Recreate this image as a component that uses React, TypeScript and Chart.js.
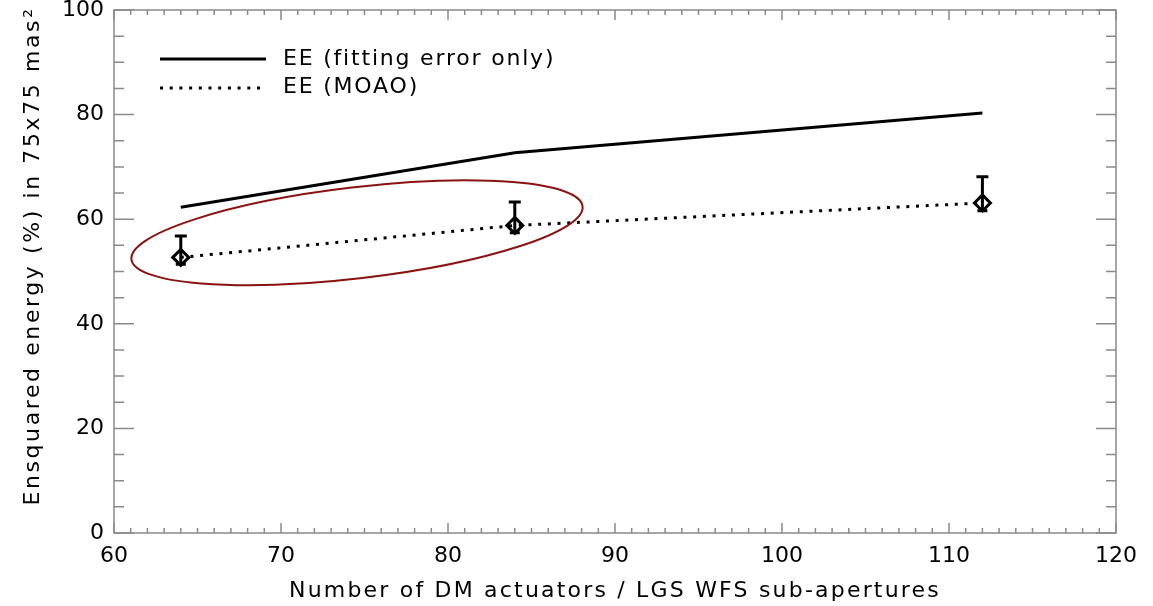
import React, { useEffect, useRef } from "react";
import { Chart, registerables } from "chart.js";

Chart.register(...registerables);

const xValues = [64, 84, 112];
const eeFitting = [62.3, 72.7, 80.3];
const eeMoao = [52.7, 58.8, 63.1];
const moaoUpper = [56.8, 63.3, 68.1];
const moaoLower = [51.4, 57.4, 61.6];
const legendLabels = ["EE (fitting error only)", "EE (MOAO)"];
const xTitle = "Number of DM actuators / LGS WFS sub-apertures";
const yTitle = "Ensquared energy (%) in 75x75 mas\u00B2";

const FONT = "'DejaVu Sans', sans-serif";
const AXIS_COLOR = "#8a8a8a";

const framePlugin = {
  id: "frame",
  afterDatasetsDraw(chart: any) {
    const { ctx, scales } = chart;
    const xs = scales.x;
    const ys = scales.y;
    ctx.save();
    ctx.strokeStyle = "#000";
    ctx.lineWidth = 3;
    ctx.lineCap = "butt";
    xValues.forEach((xv, i) => {
      const px = xs.getPixelForValue(xv);
      const top = ys.getPixelForValue(moaoUpper[i]);
      const bot = ys.getPixelForValue(moaoLower[i]);
      ctx.beginPath();
      ctx.moveTo(px, top);
      ctx.lineTo(px, bot);
      ctx.moveTo(px - 6, top);
      ctx.lineTo(px + 6, top);
      ctx.moveTo(px - 5, bot);
      ctx.lineTo(px + 5, bot);
      ctx.stroke();
    });
    ctx.restore();
  },
  afterDraw(chart: any) {
    const { ctx, chartArea: a, scales } = chart;
    const xs = scales.x;
    const ys = scales.y;
    ctx.save();
    // box + inward ticks
    ctx.strokeStyle = AXIS_COLOR;
    ctx.lineWidth = 1.5;
    ctx.strokeRect(a.left, a.top, a.right - a.left, a.bottom - a.top);
    ctx.beginPath();
    for (let v = 60; v <= 120; v += 1) {
      const px = xs.getPixelForValue(v);
      const len = v % 10 === 0 ? 10 : 5;
      ctx.moveTo(px, a.bottom);
      ctx.lineTo(px, a.bottom - len);
      ctx.moveTo(px, a.top);
      ctx.lineTo(px, a.top + len);
    }
    for (let v = 0; v <= 100; v += 5) {
      const py = ys.getPixelForValue(v);
      const len = v % 20 === 0 ? 20 : 10;
      ctx.moveTo(a.left, py);
      ctx.lineTo(a.left + len, py);
      ctx.moveTo(a.right, py);
      ctx.lineTo(a.right - len, py);
    }
    ctx.stroke();

    // ellipse annotation
    const cx = xs.getPixelForValue(74.55);
    const cy = ys.getPixelForValue(57.4);
    const rx = Math.abs(xs.getPixelForValue(60 + 13.6) - xs.getPixelForValue(60));
    const ry = Math.abs(ys.getPixelForValue(8.7) - ys.getPixelForValue(0));
    ctx.strokeStyle = "#8b1212";
    ctx.lineWidth = 2;
    ctx.beginPath();
    ctx.ellipse(cx, cy, rx, ry, (-6.7 * Math.PI) / 180, 0, Math.PI * 2);
    ctx.stroke();

    // legend
    ctx.strokeStyle = "#000";
    ctx.lineWidth = 3;
    ctx.beginPath();
    ctx.moveTo(160, 59);
    ctx.lineTo(266, 59);
    ctx.stroke();
    ctx.setLineDash([3, 6.7]);
    ctx.beginPath();
    ctx.moveTo(160, 88);
    ctx.lineTo(266, 88);
    ctx.stroke();
    ctx.setLineDash([]);
    ctx.fillStyle = "#000";
    ctx.font = `22px ${FONT}`;
    (ctx as any).letterSpacing = "1.8px";
    ctx.textBaseline = "middle";
    ctx.textAlign = "left";
    ctx.fillText(legendLabels[0], 283, 59);
    ctx.fillText(legendLabels[1], 283, 87);

    // axis titles
    (ctx as any).letterSpacing = "2.2px";
    ctx.textAlign = "center";
    ctx.fillText(xTitle, (a.left + a.right) / 2, 591);
    ctx.translate(33, 256);
    ctx.rotate(-Math.PI / 2);
    (ctx as any).letterSpacing = "2.6px";
    ctx.fillText(yTitle, 0, 0);
    ctx.restore();
  },
};

export default function App() {
  const ref = useRef<HTMLCanvasElement | null>(null);
  useEffect(() => {
    document.body.style.margin = "0";
    const canvas = ref.current;
    if (!canvas) return;
    const chart = new Chart(canvas, {
      type: "line",
      data: {
        datasets: [
          {
            label: legendLabels[0],
            data: xValues.map((x, i) => ({ x, y: eeFitting[i] })),
            borderColor: "#000",
            borderWidth: 3,
            pointRadius: 0,
            fill: false,
          },
          {
            label: legendLabels[1],
            data: xValues.map((x, i) => ({ x, y: eeMoao[i] })),
            borderColor: "#000",
            borderWidth: 3,
            borderDash: [3, 6.7],
            pointStyle: "rectRot",
            pointRadius: 8,
            pointBorderWidth: 3,
            pointBorderColor: "#000",
            pointBackgroundColor: "rgba(0,0,0,0)",
            fill: false,
          },
        ],
      },
      options: {
        animation: false,
        responsive: false,
        maintainAspectRatio: false,
        layout: { autoPadding: false, padding: { top: 0, right: 37, left: 0, bottom: 0 } },
        plugins: {
          legend: { display: false },
          tooltip: { enabled: false },
        },
        scales: {
          x: {
            type: "linear",
            min: 60,
            max: 120,
            grid: { display: false, drawTicks: false },
            border: { display: false },
            ticks: {
              stepSize: 10,
              padding: 12,
              color: "#000",
              font: { family: FONT, size: 22, lineHeight: 1 },
              maxRotation: 0,
            },
            afterFit: (s: any) => {
              s.height = 73;
            },
          },
          y: {
            type: "linear",
            min: 0,
            max: 100,
            grid: { display: false, drawTicks: false },
            border: { display: false },
            ticks: {
              stepSize: 20,
              padding: 10,
              color: "#000",
              font: { family: FONT, size: 22, lineHeight: 1 },
            },
            afterFit: (s: any) => {
              s.width = 114;
              s.paddingTop = 10;
              s.paddingBottom = 0;
            },
          },
        },
      },
      plugins: [framePlugin],
    });
    return () => chart.destroy();
  }, []);
  return (
    <div style={{ width: 1153, height: 606 }}>
      <canvas ref={ref} width={1153} height={606} style={{ display: "block" }} />
    </div>
  );
}
